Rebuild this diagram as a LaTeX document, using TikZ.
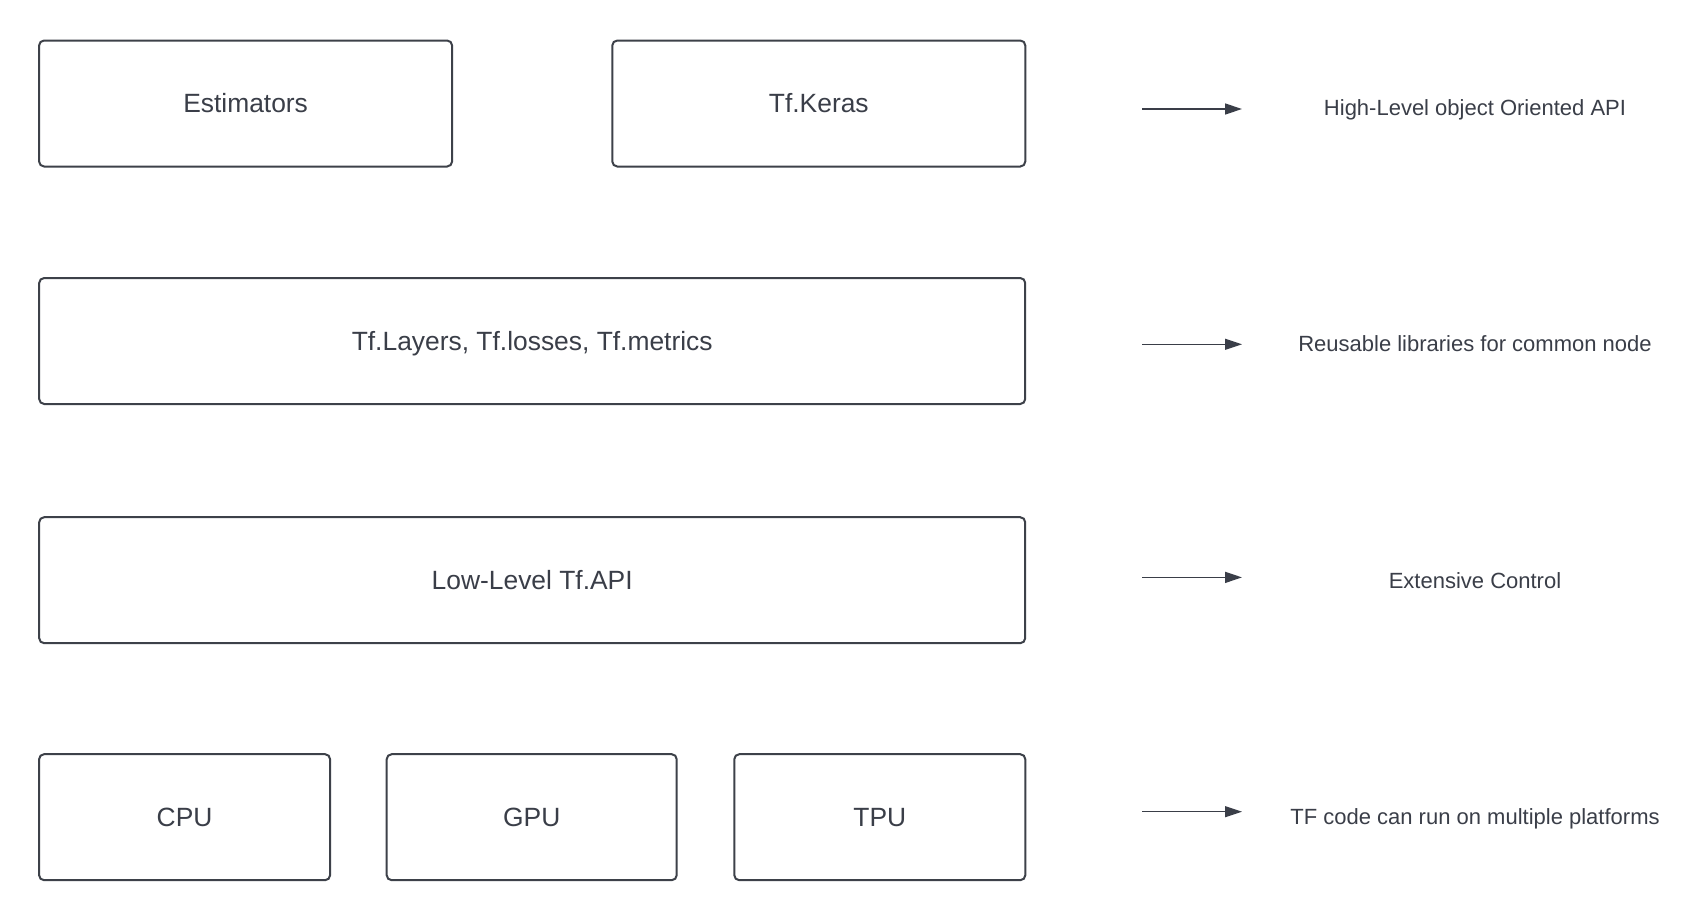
\documentclass[tikz,border=0pt]{standalone}
\usepackage{fontspec}
\setmainfont{Liberation Sans}
\usetikzlibrary{arrows.meta}
\definecolor{ink}{HTML}{3A3E48}
\definecolor{edge}{HTML}{3D4149}
\tikzset{
  box/.style={draw=edge, line width=2pt, rounded corners=5pt, fill=white,
    text=ink, font=\fontsize{26.4}{30}\selectfont, minimum height=126pt,
    text height=18.8pt, text depth=0pt, inner sep=0pt, align=center},
  lbl/.style={text=ink, font=\fontsize{22}{26}\selectfont, inner sep=0pt,
    text height=15.8pt, text depth=0pt},
  conn/.style={draw=ink, line width=1.3pt, -{Triangle[length=17pt,width=11pt]}}
}
\begin{document}
\begin{tikzpicture}[x=1pt,y=-1pt]
\useasboundingbox[fill=white] (0,0) rectangle (1708,921);
% boxes
\node[box, minimum width=413pt] (est)   at (245.6,103.5) {Estimators};
\node[box, minimum width=413pt] (keras) at (818.8,103.5) {Tf.Keras};
\node[box, minimum width=986pt] (layers) at (532.2,341) {Tf.Layers, Tf.losses, Tf.metrics};
\node[box, minimum width=986pt] (lowlevel) at (532.2,580.2) {Low-Level Tf.API};
\node[box, minimum width=291pt] (cpu) at (184.6,817.2) {CPU};
\node[box, minimum width=290pt] (gpu) at (531.7,817.2) {GPU};
\node[box, minimum width=291pt] (tpu) at (879.8,817.2) {TPU};
% arrows
\coordinate (a1s) at (1142,109);   \coordinate (a1e) at (1242,109);
\coordinate (a2s) at (1142,344.3); \coordinate (a2e) at (1242,344.3);
\coordinate (a3s) at (1142,577.4); \coordinate (a3e) at (1242,577.4);
\coordinate (a4s) at (1142,811.7); \coordinate (a4e) at (1242,811.7);
\draw[conn] (a1s) -- (a1e);
\draw[conn] (a2s) -- (a2e);
\draw[conn] (a3s) -- (a3e);
\draw[conn] (a4s) -- (a4e);
% labels
\node[lbl] (l1) at (1475,108) {High-Level object Oriented API};
\node[lbl] (l2) at (1475,344) {Reusable libraries for common node};
\node[lbl] (l3) at (1475,580.5) {Extensive Control};
\node[lbl] (l4) at (1475,816.5) {TF code can run on multiple platforms};
\end{tikzpicture}
\end{document}
